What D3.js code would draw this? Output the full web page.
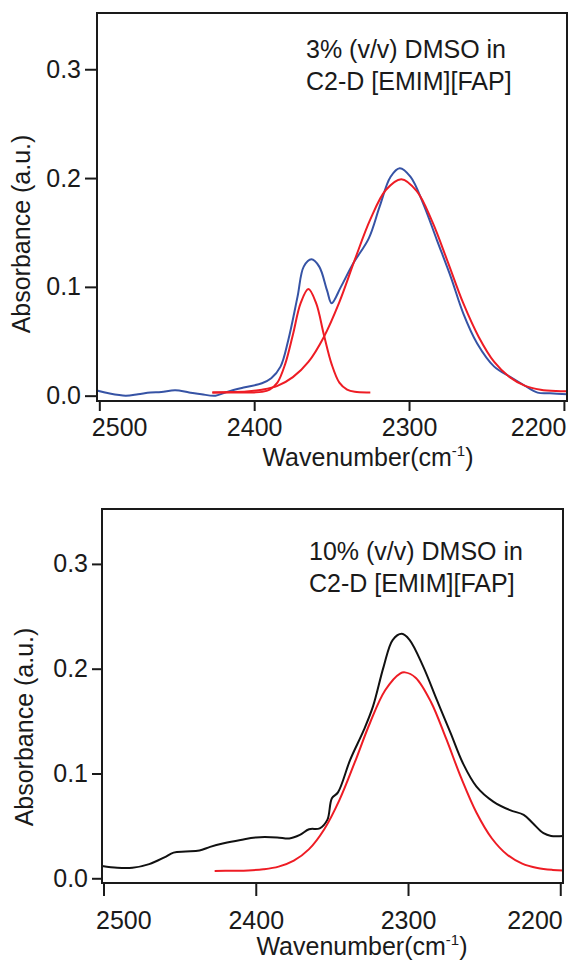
<!DOCTYPE html>
<html>
<head>
<meta charset="utf-8">
<title>DMSO in C2-D [EMIM][FAP]</title>
<script src="https://cdnjs.cloudflare.com/ajax/libs/d3/7.8.5/d3.min.js"></script>
<style>
  body { margin: 0; background: #fff; }
  svg text { font-family: "Liberation Sans", Arial, sans-serif; fill: #1a1a1a; }
</style>
</head>
<body>
<div id="chart"></div>
<script>

// ---- values ----

// top panel, 3% DMSO : measured spectrum (blue)
var wn3 = [2501, 2494, 2483, 2475, 2467, 2460, 2451, 2442, 2434, 2425, 2417, 2406, 2395, 2389,
  2383, 2378, 2372, 2368, 2363, 2358, 2353, 2350, 2344, 2336, 2326, 2319, 2312, 2306, 2299,
  2291, 2282, 2273, 2265, 2256, 2245, 2235, 2226, 2217, 2209, 2198];
var abs3 = [0.0046, 0.0022, 0.0000, 0.0013, 0.0030, 0.0034, 0.0050, 0.0030, 0.0013, 0.0000,
  0.0037, 0.0077, 0.0114, 0.0160, 0.0267, 0.0510, 0.0910, 0.1186, 0.1253, 0.1186, 0.0970,
  0.0850, 0.1000, 0.1217, 0.1446, 0.1737, 0.2010, 0.2090, 0.2010, 0.1770, 0.1430, 0.1090,
  0.0757, 0.0480, 0.0267, 0.0175, 0.0098, 0.0028, 0.0022, 0.0013];

// top panel : narrow fit band (red)
var fitWnA3 = [2427, 2410, 2400, 2395, 2390, 2385, 2380, 2375, 2370, 2365, 2360, 2355, 2350,
  2345, 2340, 2335, 2325];
var fitA3 = [0.0030, 0.0030, 0.0030, 0.0035, 0.0056, 0.0120, 0.0290, 0.0560, 0.0850, 0.0980,
  0.0850, 0.0560, 0.0290, 0.0120, 0.0056, 0.0035, 0.0030];

// top panel : broad fit band (red)
var fitWnB3 = [2427, 2415, 2405, 2395, 2385, 2375, 2365, 2355, 2345, 2335, 2325, 2315, 2305,
  2295, 2285, 2275, 2265, 2255, 2245, 2235, 2225, 2215, 2205, 2198];
var fitB3 = [0.0030, 0.0033, 0.0038, 0.0055, 0.0090, 0.0170, 0.0310, 0.0540, 0.0860, 0.1250,
  0.1620, 0.1890, 0.1990, 0.1880, 0.1600, 0.1230, 0.0850, 0.0540, 0.0310, 0.0170, 0.0090,
  0.0055, 0.0042, 0.0040];

// bottom panel, 10% DMSO : measured spectrum (black)
var wn10 = [2501, 2491, 2481, 2470, 2460, 2454, 2446, 2437, 2430, 2421, 2410, 2400, 2386, 2378,
  2371, 2365, 2358, 2353, 2350, 2346, 2338, 2329, 2323, 2316, 2310, 2304, 2299, 2290, 2281,
  2272, 2264, 2255, 2244, 2233, 2224, 2218, 2211, 2206, 2198];
var abs10 = [0.0117, 0.0100, 0.0100, 0.0135, 0.0200, 0.0245, 0.0255, 0.0265, 0.0300, 0.0334,
  0.0366, 0.0390, 0.0390, 0.0380, 0.0414, 0.0468, 0.0477, 0.0557, 0.0764, 0.0820, 0.1130,
  0.1416, 0.1640, 0.2020, 0.2276, 0.2333, 0.2276, 0.2020, 0.1700, 0.1385, 0.1100, 0.0875,
  0.0732, 0.0650, 0.0605, 0.0525, 0.0430, 0.0404, 0.0404];

// bottom panel : fit band (red)
var fitWn10 = [2427, 2415, 2405, 2395, 2385, 2375, 2365, 2355, 2345, 2335, 2325, 2315, 2305,
  2302, 2295, 2285, 2275, 2265, 2255, 2245, 2235, 2225, 2215, 2205, 2198];
var fit10 = [0.0070, 0.0072, 0.0075, 0.0086, 0.0111, 0.0168, 0.0278, 0.0468, 0.0748, 0.1105,
  0.1482, 0.1794, 0.1956, 0.1965, 0.1914, 0.1685, 0.1334, 0.0955, 0.0625, 0.0382, 0.0227,
  0.0140, 0.0098, 0.0080, 0.0075];

var xTicks = [2500, 2400, 2300, 2200];
var yTicks = [0.0, 0.1, 0.2, 0.3];
var note3 = ["3% (v/v) DMSO in", "C2-D [EMIM][FAP]"];
var note10 = ["10% (v/v) DMSO in", "C2-D [EMIM][FAP]"];

// ---- drawing ----

var W = 572, H = 964;
var svg = d3.select("#chart").append("svg")
  .attr("width", W).attr("height", H);

function pairs(xs, ys) {
  return xs.map(function(d, i) { return [d, ys[i]]; });
}

function drawPanel(p) {
  var x = d3.scaleLinear().domain(p.xDomain).range([p.left, p.right]);
  var y = d3.scaleLinear().domain(p.yDomain).range([p.bottom, p.top]);
  var g = svg.append("g");

  // y axis
  var ya = g.append("g")
    .attr("transform", "translate(" + p.left + ",0)")
    .call(d3.axisLeft(y).tickValues(yTicks).tickSize(p.yTick).tickPadding(4)
      .tickFormat(d3.format(".1f")));
  ya.select(".domain").remove();
  ya.selectAll("line").attr("stroke", "#1a1a1a").attr("stroke-width", 2);
  ya.selectAll("text").attr("font-size", 25).attr("font-family", null).attr("fill", "#1a1a1a");

  // x axis
  var xa = g.append("g")
    .attr("transform", "translate(0," + p.bottom + ")")
    .call(d3.axisBottom(x).tickValues(xTicks).tickSize(p.xTick).tickPadding(p.xPad)
      .tickFormat(d3.format("d")));
  xa.select(".domain").remove();
  xa.selectAll("line").attr("stroke", "#1a1a1a").attr("stroke-width", 2);
  xa.selectAll("text").attr("font-size", 25).attr("font-family", null).attr("fill", "#1a1a1a");
  // end labels are kept inside the axis, like the original plot
  var lbl = xa.selectAll(".tick text");
  lbl.filter(function(d, i) { return i === 0; })
    .attr("text-anchor", "start").attr("x", -8);
  lbl.filter(function(d, i) { return i === xTicks.length - 1; })
    .attr("text-anchor", "end").attr("x", 2);

  // curves
  var line = d3.line()
    .x(function(d) { return x(d[0]); })
    .y(function(d) { return y(d[1]); })
    .curve(d3.curveCatmullRom.alpha(0.5));

  p.series.forEach(function(s) {
    g.append("path")
      .attr("d", line(s.data))
      .attr("fill", "none")
      .attr("stroke", s.color)
      .attr("stroke-width", 2)
      .attr("stroke-linejoin", "round");
  });

  // frame
  g.append("rect")
    .attr("x", p.left).attr("y", p.top)
    .attr("width", p.right - p.left).attr("height", p.bottom - p.top)
    .attr("fill", "none").attr("stroke", "#1a1a1a").attr("stroke-width", 2);

  // axis titles
  var xt = g.append("text")
    .attr("x", p.xTitleX).attr("y", p.xTitleY)
    .attr("text-anchor", "middle").attr("font-size", 25);
  xt.append("tspan").text("Wavenumber(cm");
  xt.append("tspan").attr("font-size", 15).attr("dy", -10).text("-1");
  xt.append("tspan").attr("dy", 10).text(")");

  g.append("text")
    .attr("transform", "translate(" + p.yTitleX + "," + p.yTitleY + ") rotate(-90)")
    .attr("text-anchor", "middle").attr("font-size", 25)
    .text("Absorbance (a.u.)");

  // annotation
  p.note.forEach(function(t, i) {
    g.append("text")
      .attr("x", p.noteX).attr("y", p.noteY + i * 32)
      .attr("font-size", 25)
      .text(t);
  });
}

drawPanel({
  left: 97, right: 567, top: 13, bottom: 401,
  xDomain: [2501.5, 2198], yDomain: [-0.0049, 0.3517],
  yTick: 12, xTick: 10, xPad: 7,
  xTitleX: 368, xTitleY: 466, yTitleX: 30, yTitleY: 234,
  noteX: 306, noteY: 58, note: note3,
  series: [
    { data: pairs(wn3, abs3), color: "#3653a5" },
    { data: pairs(fitWnA3, fitA3), color: "#ee1c24" },
    { data: pairs(fitWnB3, fitB3), color: "#ee1c24" }
  ]
});

drawPanel({
  left: 102, right: 563, top: 509, bottom: 883,
  xDomain: [2501, 2198.2], yDomain: [-0.0045, 0.3524],
  yTick: 10, xTick: 13, xPad: 15,
  xTitleX: 362, xTitleY: 955, yTitleX: 33, yTitleY: 727,
  noteX: 309, noteY: 560, note: note10,
  series: [
    { data: pairs(wn10, abs10), color: "#111111" },
    { data: pairs(fitWn10, fit10), color: "#ee1c24" }
  ]
});

</script>
</body>
</html>
